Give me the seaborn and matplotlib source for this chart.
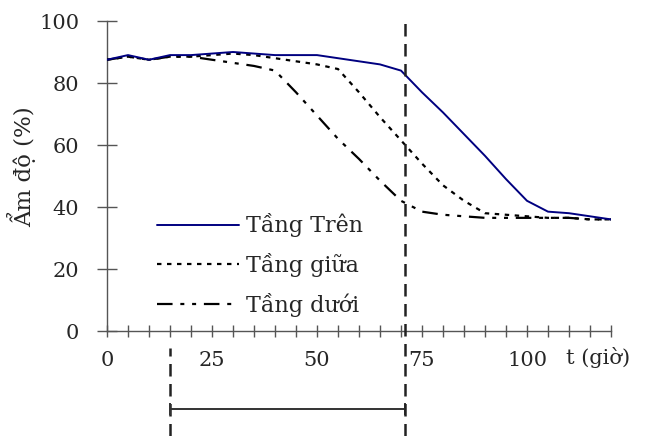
import numpy as np
import pandas as pd
import seaborn as sns
import matplotlib.pyplot as plt
import matplotlib.transforms as mtransforms

# Data (every 5 hours)
hours = list(range(0, 121, 5))
tang_tren = [87.5, 89, 87.5, 89, 89, 89.5, 90, 89.5, 89, 89, 89, 88, 87, 86, 84,
             77, 70.5, 63.5, 56.5, 49, 42, 38.5, 38, 37, 36]
tang_giua = [87.5, 88.5, 87.5, 88.5, 88.5, 89, 89.5, 89, 88, 87, 86, 84.5, 77, 69, 61.5,
             54, 47, 42, 38, 37.5, 37, 36.5, 36.5, 36, 36]
tang_duoi = [87.5, 88.5, 87.5, 88.5, 88.5, 87.5, 86.5, 85.5, 84, 77, 69.5, 62, 55.5, 48.5, 42,
             38.5, 37.5, 37, 36.5, 36.5, 36.5, 36.5, 36.5, 36, 36]
labels = ['Tầng Trên', 'Tầng giữa', 'Tầng dưới']
x_labels = {0: '0', 25: '25', 50: '50', 75: '75', 100: '100'}
mark_start, mark_end = 15, 71

df = pd.DataFrame({'t': hours, labels[0]: tang_tren, labels[1]: tang_giua, labels[2]: tang_duoi})

sns.set_style('ticks')
plt.rcParams['font.family'] = ['DejaVu Serif']
plt.rcParams['font.size'] = 15

fig = plt.figure(figsize=(6.46, 4.36), dpi=100)
ax = fig.add_axes([107 / 646, 105 / 436, 504 / 646, 310 / 436])

sns.lineplot(data=df, x='t', y=labels[2], ax=ax, color='black', lw=1.6,
             label=labels[2], zorder=3)
sns.lineplot(data=df, x='t', y=labels[1], ax=ax, color='black', lw=1.6,
             label=labels[1], zorder=4)
sns.lineplot(data=df, x='t', y=labels[0], ax=ax, color='#000080', lw=1.4,
             label=labels[0], zorder=5)
lines = ax.get_lines()
lines[0].set_dashes((7, 3.5, 1.8, 3.5, 1.8, 3.5))
lines[1].set_dashes((2, 2.5))

ax.set_xlim(0, 120)
ax.set_ylim(0, 100)
sns.despine(ax=ax)
for s in ['left', 'bottom']:
    ax.spines[s].set_color('#555555')
    ax.spines[s].set_linewidth(1)

ax.set_yticks(range(0, 101, 20))
ax.tick_params(axis='y', direction='inout', length=14, width=1, color='#555555', pad=13)
ax.set_xticks(hours)
ax.set_xticklabels([x_labels.get(h, '') for h in hours])
ax.tick_params(axis='x', direction='inout', length=9, width=1, color='#555555', pad=10)

ax.set_xlabel('')
ax.set_ylabel('Ẩm độ (%)', fontsize=16.5)
ax.yaxis.set_label_coords(-0.14, 0.53)

trans = mtransforms.blended_transform_factory(ax.transData, ax.transAxes)
ax.text(117, -0.085, 't (giờ)', transform=trans, ha='center', va='center')

# marker lines for the interval
ax.plot([mark_end, mark_end], [-0.34, 1.005], transform=trans, clip_on=False,
        color='#222222', lw=1.8, dashes=(5, 3), zorder=6)
ax.plot([mark_start, mark_start], [-0.34, -0.055], transform=trans, clip_on=False,
        color='#222222', lw=1.8, dashes=(5, 3))
ax.plot([mark_start, mark_end], [-0.252, -0.252], transform=trans, clip_on=False,
        color='#333333', lw=1.4, marker='|', markersize=9, markeredgewidth=1.4)

handles, labs = ax.get_legend_handles_labels()
order = [labs.index(l) for l in labels]
ax.legend([handles[i] for i in order], [labs[i] for i in order],
          loc='lower left', bbox_to_anchor=(0.07, 0.0), frameon=False,
          fontsize=16, handlelength=3.7, handletextpad=0.3, labelspacing=0.7,
          borderaxespad=0.25)

fig.savefig('out.png', dpi=100)
